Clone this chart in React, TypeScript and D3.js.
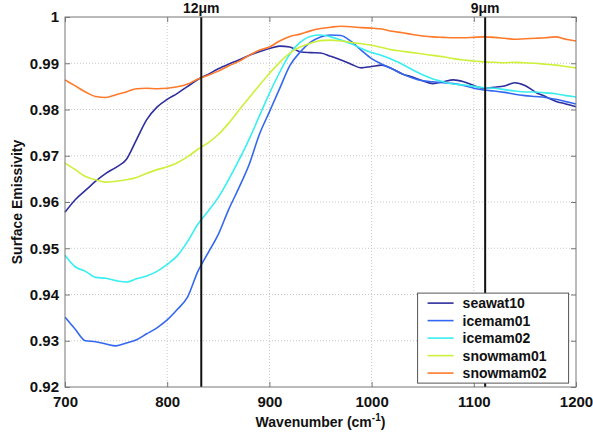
import { useRef, useEffect } from 'react';
import * as d3 from 'd3';

// wavenumber grid (cm-1)
const wavenumbers = [
  700, 710, 720, 730, 740, 750, 760, 770, 780, 790,
  800, 810, 820, 830, 840, 850, 860, 870, 880, 890,
  900, 910, 920, 930, 940, 950, 960, 970, 980, 990,
  1000, 1010, 1020, 1030, 1040, 1050, 1060, 1070, 1080, 1090,
  1100, 1110, 1120, 1130, 1140, 1150, 1160, 1170, 1180, 1190, 1200,
];

const seawat10 = [
  0.9578, 0.9605, 0.9625, 0.9645, 0.9662, 0.9675, 0.9692, 0.9735, 0.9778, 0.9805,
  0.9822, 0.9835, 0.985, 0.9865, 0.9876, 0.9888, 0.9898, 0.9907, 0.9917, 0.9925,
  0.9932, 0.9937, 0.9935, 0.9925, 0.9923, 0.9922, 0.9915, 0.9907, 0.9898, 0.989,
  0.9893, 0.9896, 0.9888, 0.9877, 0.987, 0.9862, 0.9856, 0.986, 0.9864, 0.986,
  0.9852, 0.9846, 0.9848, 0.9851, 0.9858, 0.9852, 0.9838, 0.9828, 0.9818, 0.9812, 0.9806,
];

const icemam01 = [
  0.9351, 0.9325, 0.93, 0.9298, 0.9293, 0.9289, 0.9295, 0.9302, 0.9315, 0.9328,
  0.9345, 0.9368, 0.9395, 0.945, 0.949, 0.953, 0.9583, 0.963, 0.968, 0.9745,
  0.9795, 0.9845, 0.9895, 0.9924, 0.9945, 0.9957, 0.9961, 0.996, 0.9947, 0.9928,
  0.991, 0.9898, 0.9888, 0.9877, 0.9868, 0.9862, 0.986, 0.9858, 0.9856, 0.9852,
  0.9846, 0.9842, 0.984, 0.9837, 0.9833, 0.983, 0.9828, 0.9826, 0.9822, 0.9817, 0.9812,
];

const icemam02 = [
  0.9485, 0.946, 0.945, 0.9437, 0.9435, 0.943, 0.9427, 0.9434, 0.944, 0.945,
  0.9465, 0.9484, 0.9515, 0.9552, 0.958, 0.961, 0.9648, 0.969, 0.9735, 0.9785,
  0.9835, 0.988, 0.992, 0.9945, 0.9958, 0.9961, 0.9957, 0.995, 0.9942, 0.9932,
  0.9923, 0.9917, 0.9908, 0.9898, 0.9886, 0.9875, 0.9866, 0.986, 0.9855, 0.9853,
  0.985, 0.9847, 0.9846, 0.9843, 0.984, 0.9838, 0.9838, 0.9836, 0.9834, 0.983, 0.9827,
];

const snowmam01 = [
  0.9684, 0.967, 0.9655, 0.9648, 0.9643, 0.9645, 0.9648, 0.9653, 0.9662, 0.967,
  0.9676, 0.9685, 0.9698, 0.9714, 0.9728, 0.9746, 0.977, 0.9798, 0.9825, 0.9852,
  0.9878, 0.9902, 0.9922, 0.9935, 0.9943, 0.9949, 0.995, 0.9948, 0.9945, 0.9942,
  0.9939, 0.9934, 0.9929, 0.9926, 0.9923, 0.992, 0.9917, 0.9914, 0.991, 0.9907,
  0.9905, 0.9903, 0.9902, 0.9901, 0.9902, 0.9901, 0.99, 0.9898, 0.9896, 0.9893, 0.989,
];

const snowmam02 = [
  0.9864, 0.9851, 0.9838, 0.9828, 0.9826, 0.9832, 0.9838, 0.9845, 0.9846, 0.9845,
  0.9846, 0.9849, 0.9855, 0.9866, 0.9874, 0.9883, 0.9894, 0.9904, 0.9917, 0.9928,
  0.9935, 0.9948, 0.9958, 0.9963, 0.997, 0.9975, 0.9978, 0.998, 0.9979, 0.9977,
  0.9976, 0.9974, 0.9969, 0.9966, 0.9962, 0.9959, 0.9957, 0.9956, 0.9955, 0.9955,
  0.9956, 0.9957, 0.9956, 0.9954, 0.9952, 0.9953, 0.9954, 0.9955, 0.9957, 0.9952, 0.9948,
];

const seriesNames = ['seawat10', 'icemam01', 'icemam02', 'snowmam01', 'snowmam02'];
const seriesValues = [seawat10, icemam01, icemam02, snowmam01, snowmam02];
const seriesColors = ['#2e2e9e', '#3468f0', '#38eef0', '#cdf03a', '#ff7a2a'];

const xTicks = [700, 800, 900, 1000, 1100, 1200];
const yTicks = [0.92, 0.93, 0.94, 0.95, 0.96, 0.97, 0.98, 0.99, 1];

// marker wavelengths (um) -> wavenumber
const markers = [
  { label: '12', wn: 10000 / 12 },
  { label: '9', wn: 10000 / 9 },
];

function EmissivityChart() {
  const ref = useRef<SVGSVGElement>(null);

  useEffect(() => {
    const svg = d3.select(ref.current);
    svg.selectAll('*').remove();

    const margin = { top: 17, right: 17, bottom: 49, left: 65 };
    const width = 593 - margin.left - margin.right;
    const height = 436 - margin.top - margin.bottom;
    const font = 'Arial, "Liberation Sans", sans-serif';

    const x = d3.scaleLinear().domain([700, 1200]).range([0, width]);
    const y = d3.scaleLinear().domain([0.92, 1]).range([height, 0]);

    const g = svg.append('g').attr('transform', `translate(${margin.left},${margin.top})`);

    // dotted grid
    g.selectAll('.gx').data(xTicks.slice(1, -1)).enter().append('line')
      .attr('x1', d => x(d)).attr('x2', d => x(d))
      .attr('y1', 0).attr('y2', height)
      .attr('stroke', '#c8c8c8').attr('stroke-width', 1)
      .attr('stroke-dasharray', '1,2');
    g.selectAll('.gy').data(yTicks.slice(1, -1)).enter().append('line')
      .attr('x1', 0).attr('x2', width)
      .attr('y1', d => y(d)).attr('y2', d => y(d))
      .attr('stroke', '#c8c8c8').attr('stroke-width', 1)
      .attr('stroke-dasharray', '1,2');

    // series lines
    const line = d3.line<number>()
      .x((_, i) => x(wavenumbers[i]))
      .y(d => y(d))
      .curve(d3.curveMonotoneX);

    seriesValues.forEach((vals, i) => {
      g.append('path')
        .attr('d', line(vals))
        .attr('fill', 'none')
        .attr('stroke', seriesColors[i])
        .attr('stroke-width', 1.6);
    });

    // 12um / 9um markers
    markers.forEach(m => {
      g.append('line')
        .attr('x1', x(m.wn)).attr('x2', x(m.wn))
        .attr('y1', 0).attr('y2', height)
        .attr('stroke', '#111').attr('stroke-width', 2);
      const t = g.append('text')
        .attr('x', x(m.wn)).attr('y', -4)
        .attr('text-anchor', 'middle')
        .attr('font-family', font).attr('font-weight', 'bold').attr('font-size', 14)
        .attr('fill', '#111');
      t.append('tspan').text(m.label);
      t.append('tspan').text('\u03bcm');
    });

    // frame
    g.append('rect')
      .attr('width', width).attr('height', height)
      .attr('fill', 'none').attr('stroke', '#777').attr('stroke-width', 1);

    // axes (ticks inside)
    const xAxis = g.append('g').attr('transform', `translate(0,${height})`)
      .call(d3.axisBottom(x).tickValues(xTicks).tickSizeInner(-5).tickSizeOuter(0).tickPadding(9)
        .tickFormat(d3.format('d')));
    const xTop = g.append('g')
      .call(d3.axisTop(x).tickValues(xTicks).tickSizeInner(-5).tickSizeOuter(0).tickFormat(() => ''));
    const yAxis = g.append('g')
      .call(d3.axisLeft(y).tickValues(yTicks).tickSizeInner(-5).tickSizeOuter(0).tickPadding(6)
        .tickFormat(d => (d === 1 ? '1' : d3.format('.2f')(d as number))));
    const yRight = g.append('g').attr('transform', `translate(${width},0)`)
      .call(d3.axisRight(y).tickValues(yTicks).tickSizeInner(-5).tickSizeOuter(0).tickFormat(() => ''));

    [xAxis, xTop, yAxis, yRight].forEach(a => {
      a.select('.domain').remove();
      a.selectAll('line').attr('stroke', '#777');
      a.selectAll('text')
        .attr('font-family', font).attr('font-weight', 'bold').attr('font-size', 15)
        .attr('fill', '#111');
    });

    // axis titles
    const xt = g.append('text')
      .attr('x', width / 2).attr('y', height + 40)
      .attr('text-anchor', 'middle')
      .attr('font-family', font).attr('font-weight', 'bold').attr('font-size', 14)
      .attr('fill', '#111');
    xt.append('tspan').text('Wavenumber (cm');
    xt.append('tspan').attr('dy', -6).attr('font-size', 10).text('-1');
    xt.append('tspan').attr('dy', 6).text(')');

    g.append('text')
      .attr('transform', `translate(${-43},${height / 2}) rotate(-90)`)
      .attr('text-anchor', 'middle')
      .attr('font-family', font).attr('font-weight', 'bold').attr('font-size', 14)
      .attr('fill', '#111')
      .text('Surface Emissivity');

    // legend
    const lg = g.append('g').attr('transform', `translate(${x(1045)},${y(0.9403)})`);
    lg.append('rect')
      .attr('width', 151).attr('height', 90)
      .attr('fill', '#fff').attr('stroke', '#555').attr('stroke-width', 1);
    seriesNames.forEach((name, i) => {
      const ry = 10 + i * 17.5;
      lg.append('line')
        .attr('x1', 10).attr('x2', 36).attr('y1', ry).attr('y2', ry)
        .attr('stroke', seriesColors[i]).attr('stroke-width', 1.6);
      lg.append('text')
        .attr('x', 45).attr('y', ry + 5)
        .attr('font-family', font).attr('font-weight', 'bold').attr('font-size', 14)
        .attr('fill', '#111')
        .text(name);
    });
  }, []);

  return <svg ref={ref} width={593} height={436} style={{ display: 'block' }} />;
}

export default function App() {
  return (
    <div style={{ position: 'absolute', left: 0, top: 0, width: 593, height: 436, overflow: 'hidden' }}>
      <EmissivityChart />
    </div>
  );
}
